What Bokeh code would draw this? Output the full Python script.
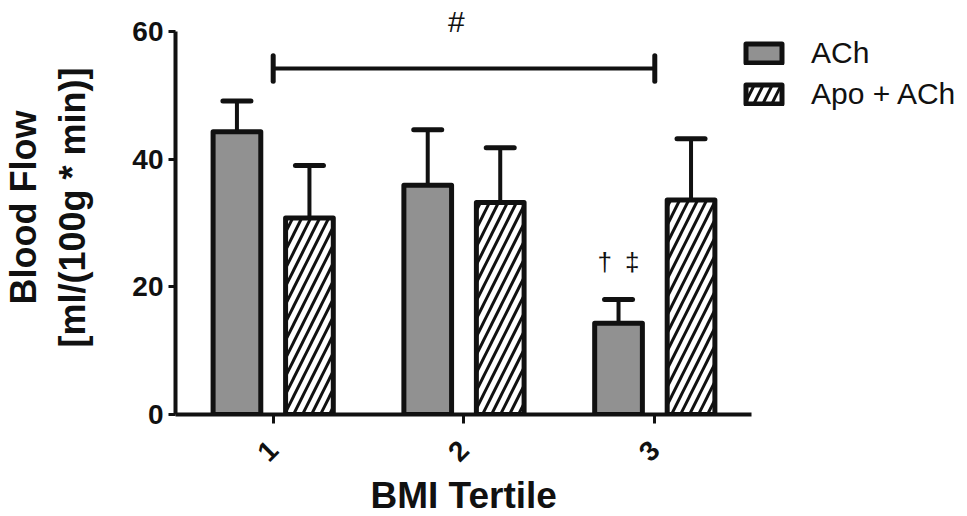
import math
from bokeh.plotting import figure
from bokeh.models import (ColumnDataSource, Range1d, FixedTicker, Whisker, TeeHead,
                          Legend, LegendItem, CanvasTexture, Title)
from bokeh.transform import dodge
from bokeh.core.properties import value
from bokeh.embed import file_html
from bokeh.resources import INLINE

# ---- data ----
tertiles = [1, 2, 3]
tick_labels = ["1", "2", "3"]
ach_mean = [44.3, 35.9, 14.3]
ach_sem = [4.8, 8.7, 3.7]
apo_mean = [30.8, 33.2, 33.6]
apo_sem = [8.2, 8.6, 9.6]
series_names = ["ACh", "Apo + ACh"]
bracket_from, bracket_to, bracket_y = 1, 3, 54.2
bracket_label = "#"
marker_label = "†\u2002‡"
x_title = "BMI Tertile"
y_title = "Blood Flow\n[ml/(100g * min)]"

FONT = "Liberation Sans"

src_ach = ColumnDataSource(dict(x=tertiles, top=ach_mean,
                                upper=[m + s for m, s in zip(ach_mean, ach_sem)]))
src_apo = ColumnDataSource(dict(x=tertiles, top=apo_mean,
                                upper=[m + s for m, s in zip(apo_mean, apo_sem)]))

p = figure(width=967, height=516, output_backend="svg", toolbar_location=None,
           x_range=Range1d(0.488, 4.639), y_range=Range1d(0, 64.86),
           min_border_left=172, min_border_right=0, min_border_top=0, min_border_bottom=102)
p.outline_line_color = None
p.grid.visible = False
p.background_fill_color = "white"
p.border_fill_color = "white"

checker = CanvasTexture(code="""
const s = scale / 2;
ctx.fillStyle = color;
ctx.fillRect(0, 0, s, s);
ctx.fillRect(s, s, s, s);
""")

off = 0.19
bw = 0.25
r_ach = p.vbar(x=dodge("x", -off, range=p.x_range), top="top", bottom=0, width=bw,
               source=src_ach, fill_color="white", line_color="#111111", line_width=5,
               line_join="round", hatch_pattern=value("checker"),
               hatch_extra={"checker": checker}, hatch_color="#111111", hatch_scale=6)
r_apo = p.vbar(x=dodge("x", off, range=p.x_range), top="top", bottom=0, width=bw,
               source=src_apo, fill_color="white", line_color="#111111", line_width=5,
               line_join="round", hatch_pattern="/", hatch_color="#111111",
               hatch_scale=18, hatch_weight=3)

for src, o in ((src_ach, -off), (src_apo, off)):
    w = Whisker(source=src, base=dodge("x", o, range=p.x_range), lower="top", upper="upper",
                dimension="height", line_width=4, line_color="#111111",
                upper_head=TeeHead(size=28, line_width=5, line_color="#111111", line_cap="round"),
                lower_head=None)
    p.add_layout(w)

# significance bracket
p.segment(x0=[bracket_from], y0=[bracket_y], x1=[bracket_to], y1=[bracket_y],
          line_width=4, line_color="#111111")
p.segment(x0=[bracket_from, bracket_to], y0=[bracket_y - 2, bracket_y - 2],
          x1=[bracket_from, bracket_to], y1=[bracket_y + 2, bracket_y + 2],
          line_width=5, line_color="#111111", line_cap="round")
p.text(x=[(bracket_from + bracket_to) / 2 - 0.04], y=[61.5], text=[bracket_label],
       text_font=value(FONT), text_font_size="30px", text_align="center",
       text_baseline="middle", text_color="#111111")
p.text(x=[tertiles[2] - off], y=[23.9], text=[marker_label],
       text_font=value(FONT), text_font_size="26px", text_align="center",
       text_baseline="middle", text_color="#111111")

# axes
for ax in (p.xaxis[0], p.yaxis[0]):
    ax.axis_line_width = 4
    ax.axis_line_color = "#111111"
    ax.major_tick_line_width = 3
    ax.major_tick_line_color = "#111111"
    ax.major_tick_in = 0
    ax.minor_tick_line_color = None
    ax.major_label_text_font = FONT
    ax.major_label_text_font_style = "bold"
    ax.major_label_text_font_size = "28px"
    ax.major_label_text_color = "#111111"
    ax.axis_label_text_font = FONT
    ax.axis_label_text_font_style = "bold"
    ax.axis_label_text_color = "#111111"

xa = p.xaxis[0]
xa.ticker = FixedTicker(ticks=tertiles)
xa.major_label_overrides = {t: l for t, l in zip(tertiles, tick_labels)}
xa.bounds = (0.488, 3.507)
xa.major_tick_out = 9
xa.major_label_orientation = math.pi / 4
xa.major_label_standoff = 22

p.add_layout(Title(text=x_title, align="left", offset=195, standoff=0,
                   text_font=FONT, text_font_style="bold", text_font_size="37px",
                   text_color="#111111"), "below")

ya = p.yaxis[0]
ya.ticker = FixedTicker(ticks=[0, 20, 40, 60])
ya.bounds = (0, 60)
ya.major_tick_out = 7
ya.major_label_standoff = 5
ya.axis_label = y_title
ya.axis_label_text_font_size = "36px"
ya.axis_label_text_line_height = 1.2
ya.axis_label_standoff = 36

legend = Legend(items=[LegendItem(label=series_names[0], renderers=[r_ach]),
                       LegendItem(label=series_names[1], renderers=[r_apo])],
                location=(566, 303), padding=0, margin=0, spacing=7,
                glyph_width=45, glyph_height=24, label_height=24, label_standoff=25,
                label_text_font=FONT, label_text_font_size="30px",
                label_text_color="#111111", border_line_color=None,
                background_fill_alpha=0)
p.add_layout(legend)

open("out.html", "w").write(file_html(p, INLINE))
